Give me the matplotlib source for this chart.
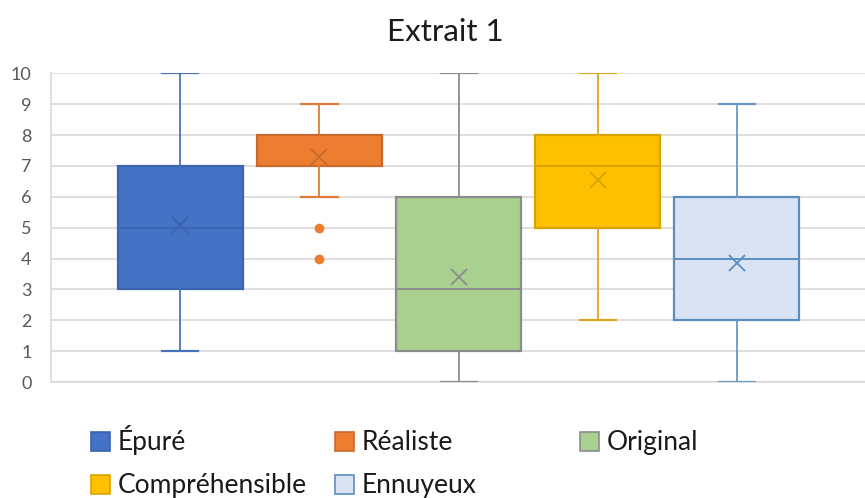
import matplotlib.pyplot as plt
import numpy as np
from matplotlib.patches import Rectangle

plt.rcParams['font.family'] = ['Lato', 'DejaVu Sans']

# Résumé des boîtes (min, Q1, médiane, Q3, max, moyenne, valeurs isolées)
series = ["Épuré", "Réaliste", "Original", "Compréhensible", "Ennuyeux"]
whis_lo = [1, 6, 0, 2, 0]
q1 = [3, 7, 1, 5, 2]
medians = [5, 8, 3, 7, 4]
q3 = [7, 8, 6, 8, 6]
whis_hi = [10, 9, 10, 10, 9]
means = [5.1, 7.3, 3.4, 6.55, 3.85]
outliers = [[], [5, 4], [], [], []]

fills = ["#4472C4", "#ED7D31", "#A9D08E", "#FFC000", "#DAE3F3"]
edges = ["#3A63B0", "#C96A2C", "#8C8C8C", "#D9A400", "#5B8EC0"]
whisk = ["#4A72BA", "#E07B3C", "#8C8C8C", "#DCA520", "#6A97C6"]

W, H = 865, 498


def fx(px):
    return px / W


def fy(py):
    return 1 - py / H


fig = plt.figure(figsize=(W / 100, H / 100), dpi=100)
ax = fig.add_axes([fx(51), fy(382), 818 / W, 308.7 / H])

for i, name in enumerate(series):
    stats = [dict(label=name, whislo=whis_lo[i], q1=q1[i], med=medians[i],
                  q3=q3[i], whishi=whis_hi[i], mean=means[i],
                  fliers=np.array(outliers[i]))]
    ax.bxp(stats, positions=[i], widths=0.9, capwidths=0.26,
           patch_artist=True, showmeans=True, manage_ticks=False,
           boxprops=dict(facecolor=fills[i], edgecolor=edges[i], linewidth=1.6),
           medianprops=dict(color=edges[i], linewidth=1.4),
           whiskerprops=dict(color=whisk[i], linewidth=1.3),
           capprops=dict(color=whisk[i], linewidth=1.6),
           meanprops=dict(marker='x', markersize=11, markeredgewidth=1.3,
                          markeredgecolor=edges[i]),
           flierprops=dict(marker='o', markersize=6, markerfacecolor=fills[i],
                           markeredgecolor=fills[i]),
           zorder=3)

ax.set_xlim(-0.93, 4.95)
ax.set_ylim(0, 10)
ax.set_yticks(range(0, 11))
ax.set_xticks([])
ax.tick_params(axis='y', length=0, pad=14, labelsize=13, labelcolor="#595959")
ax.grid(axis='y', color="#D9D9D9", linewidth=1.2, zorder=0)
ax.set_axisbelow(True)
for side in ["top", "right"]:
    ax.spines[side].set_visible(False)
for side in ["left", "bottom"]:
    ax.spines[side].set_color("#D9D9D9")
    ax.spines[side].set_linewidth(1.2)

fig.text(fx(445), fy(41), "Extrait 1", ha='center', va='baseline',
         fontsize=22.5, color="#1A1A1A")

# Légende : trois colonnes, remplie ligne par ligne
col_x = [91, 335, 580]
row_y = [441, 484]
sq = 19
for k, name in enumerate(series):
    x0 = col_x[k % 3]
    yc = row_y[k // 3]
    fig.add_artist(Rectangle((fx(x0), fy(yc + sq / 2)), sq / W, sq / H,
                             transform=fig.transFigure, facecolor=fills[k],
                             edgecolor=edges[k], linewidth=1.2))
    fig.text(fx(x0 + 27), fy(yc + 9), name, ha='left', va='baseline',
             fontsize=19, color="#1A1A1A")

fig.savefig("out.png", dpi=100)
